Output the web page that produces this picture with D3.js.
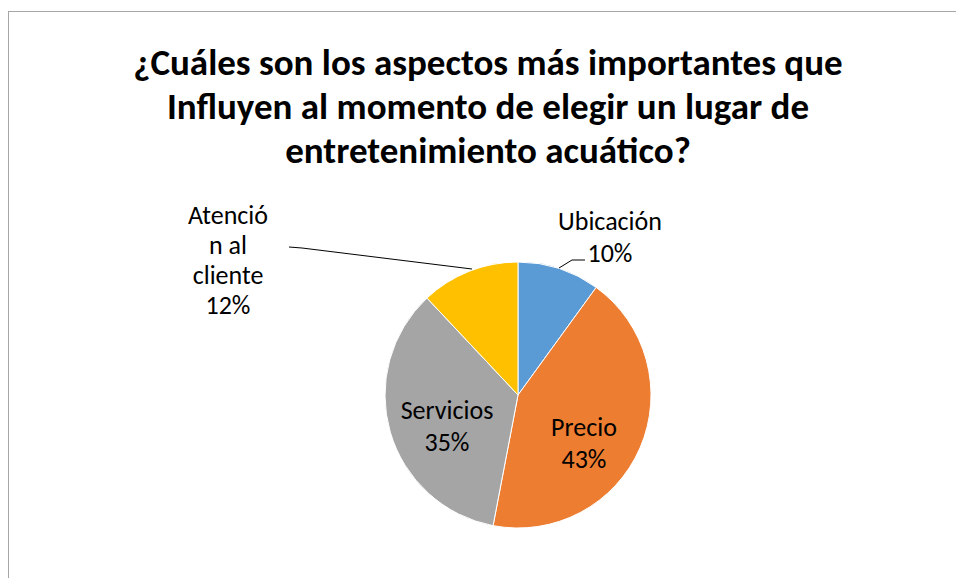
<!DOCTYPE html>
<html><head><meta charset="utf-8">
<script src="https://cdn.jsdelivr.net/npm/d3@7/dist/d3.min.js"></script>
<style>body{margin:0;background:#fff}</style>
</head><body>
<svg id="c" width="956" height="578"></svg>
<script>
const categories = ["Ubicación", "Precio", "Servicios", "Atención al cliente"];
const values = [10, 43, 35, 12];
const colors = ["#5B9BD5", "#ED7D31", "#A5A5A5", "#FFC000"];
const labelLines = [["Ubicación", "10%"], ["Precio", "43%"], ["Servicios", "35%"], ["Atenció", "n al", "cliente", "12%"]];
const titleLines = ["¿Cuáles son los aspectos más importantes que", "Influyen al momento de elegir un lugar de", "entretenimiento acuático?"];

const svg = d3.select("#c");
const font = "Carlito, Calibri, Lato, 'Open Sans', sans-serif";
svg.append("rect").attr("x", 8.5).attr("y", 11.5).attr("width", 960).attr("height", 600)
  .attr("fill", "#fff").attr("stroke", "#A6A6A6").attr("stroke-width", 1);

svg.append("g").selectAll("text").data(titleLines).join("text")
  .attr("x", 488).attr("y", (d, i) => 75 + i * 44)
  .attr("text-anchor", "middle").attr("font-family", font).attr("font-weight", "bold")
  .attr("font-size", 37).attr("fill", "#000").text(d => d);

const cx = 518, cy = 395, r = 133;
const pie = d3.pie().sort(null).value(d => d);
const arcs = pie(values);
const arc = d3.arc().innerRadius(0).outerRadius(r);
const g = svg.append("g").attr("transform", `translate(${cx},${cy})`);
g.selectAll("path").data(arcs).join("path").attr("d", arc)
  .attr("fill", (d, i) => colors[i]).attr("stroke", "#fff").attr("stroke-width", 1);

// label positions (relative to centre)
const labelPos = [[92, -165], [66, 41], [-71, 24], [-290, -171]];
const lh = [32, 32, 32, 30];
labelLines.forEach((lines, i) => {
  const t = svg.append("text").attr("font-family", font).attr("font-size", 26)
    .attr("fill", "#000").attr("text-anchor", "middle");
  lines.forEach((l, j) => {
    t.append("tspan").attr("x", cx + labelPos[i][0]).attr("y", cy + labelPos[i][1] + j * lh[i]).text(l);
  });
});

// leader lines
const lineGen = d3.line();
const toAbs = pts => pts.map(p => [cx + p[0], cy + p[1]]);
const leaders = [
  [[41, -127], [54, -135], [67, -135]],
  [[-229, -148], [-216, -147], [-46, -126]]
];
svg.selectAll("path.leader").data(leaders).join("path").attr("class", "leader")
  .attr("d", d => lineGen(toAbs(d))).attr("fill", "none").attr("stroke", "#000").attr("stroke-width", 1);
</script>
</body></html>
